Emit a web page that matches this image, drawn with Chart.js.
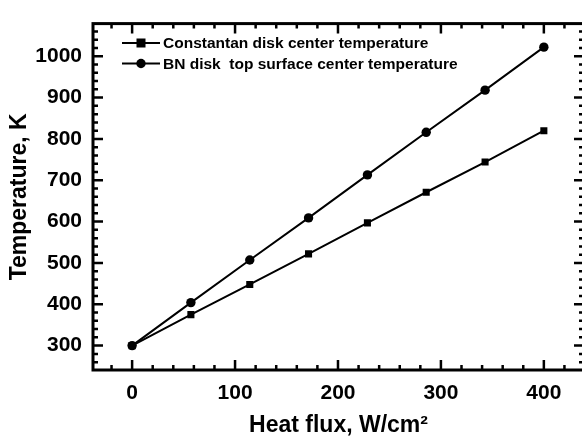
<!DOCTYPE html>
<html>
<head>
<meta charset="utf-8">
<script src="https://cdn.jsdelivr.net/npm/chart.js@4/dist/chart.umd.min.js"></script>
<style>html,body{margin:0;padding:0;background:#fff;overflow:hidden}</style>
</head>
<body>
<canvas id="chart" width="600" height="441"></canvas>
<script>
// values
const heatFlux = [0, 57.1, 114.3, 171.4, 228.6, 285.7, 342.9, 400];
const constantanTemp = [300, 375, 448, 522, 597, 671, 744, 820];
const bnTemp = [300, 404, 507, 609, 713, 816, 918, 1022];
const xTickLabels = [0, 100, 200, 300, 400];
const yTickLabels = [300, 400, 500, 600, 700, 800, 900, 1000];

const FONT = 'Arial, "Liberation Sans", sans-serif';

// frame, inward ticks on all four sides, legend inside the plot
const framePlugin = {
  id: 'frame',
  afterDatasetsDraw(chart){
    const ctx = chart.ctx, a = chart.chartArea;
    const xs = chart.scales.x, ys = chart.scales.y;
    ctx.save();
    ctx.strokeStyle = '#000';
    ctx.lineWidth = 2.5;
    for(let v=-20; v<=440; v+=20){
      const px = xs.getPixelForValue(v);
      if(px<=a.left+1 || px>=a.right-1) continue;
      const len = v%100===0 ? 10 : 5;
      ctx.beginPath();
      ctx.moveTo(px,a.bottom); ctx.lineTo(px,a.bottom-len);
      ctx.moveTo(px,a.top); ctx.lineTo(px,a.top+len);
      ctx.stroke();
    }
    for(let v=260; v<=1060; v+=20){
      const py = ys.getPixelForValue(v);
      if(py<=a.top+1 || py>=a.bottom-1) continue;
      const len = v%100===0 ? 10 : 5;
      ctx.beginPath();
      ctx.moveTo(a.left,py); ctx.lineTo(a.left+len,py);
      ctx.moveTo(a.right,py); ctx.lineTo(a.right-len,py);
      ctx.stroke();
    }
    ctx.lineWidth = 3;
    ctx.strokeRect(a.left,a.top,a.right-a.left,a.bottom-a.top);

    // legend
    ctx.font = 'bold 15.5px ' + FONT;
    ctx.textBaseline = 'middle';
    ctx.fillStyle = '#000';
    chart.data.datasets.forEach((ds,i)=>{
      const y = 43 + i*20.5;
      ctx.lineWidth = 2;
      ctx.beginPath(); ctx.moveTo(122,y); ctx.lineTo(160,y); ctx.stroke();
      if(ds.pointStyle==='rect'){
        ctx.fillRect(141-4.5,y-4.5,9,9);
      } else {
        ctx.beginPath(); ctx.arc(141,y,4.7,0,Math.PI*2); ctx.fill();
      }
      ctx.fillText(ds.label,163,y+1);
    });
    ctx.restore();
  }
};

const ctx = document.getElementById('chart').getContext('2d');
new Chart(ctx,{
  type:'line',
  data:{
    datasets:[
      {label:'Constantan disk center temperature',
       data:heatFlux.map((x,i)=>({x:x,y:constantanTemp[i]})),
       borderColor:'#000',backgroundColor:'#000',borderWidth:2,
       pointStyle:'rect',pointRadius:5,pointBorderWidth:0},
      {label:'BN disk  top surface center temperature',
       data:heatFlux.map((x,i)=>({x:x,y:bnTemp[i]})),
       borderColor:'#000',backgroundColor:'#000',borderWidth:2,
       pointStyle:'circle',pointRadius:4.7,pointBorderWidth:0}
    ]
  },
  options:{
    responsive:false,
    animation:false,
    layout:{padding:{left:0,right:16,top:9,bottom:0}},
    plugins:{legend:{display:false},tooltip:{enabled:false}},
    scales:{
      x:{
        type:'linear',min:-38,max:439,
        grid:{display:false,drawTicks:false},
        border:{display:false},
        afterBuildTicks(s){ s.ticks = xTickLabels.map(v=>({value:v})); },
        afterFit(s){ s.height = 71; },
        ticks:{color:'#000',padding:11,maxRotation:0,callback:v=>String(v),
               font:{family:FONT,size:21,weight:'bold'}},
        title:{display:true,text:'Heat flux, W/cm²',color:'#000',padding:{top:0,bottom:2},
               font:{family:FONT,size:23,weight:'bold'}}
      },
      y:{
        type:'linear',min:241,max:1079,
        grid:{display:false,drawTicks:false},
        border:{display:false},
        afterBuildTicks(s){ s.ticks = yTickLabels.map(v=>({value:v})); },
        afterFit(s){ s.width = 93; },
        ticks:{color:'#000',padding:11,callback:v=>String(v),
               font:{family:FONT,size:21,weight:'bold'}},
        title:{display:true,text:'Temperature, K',color:'#000',padding:{top:6,bottom:0},
               font:{family:FONT,size:23,weight:'bold'}}
      }
    }
  },
  plugins:[framePlugin]
});
</script>
</body>
</html>
